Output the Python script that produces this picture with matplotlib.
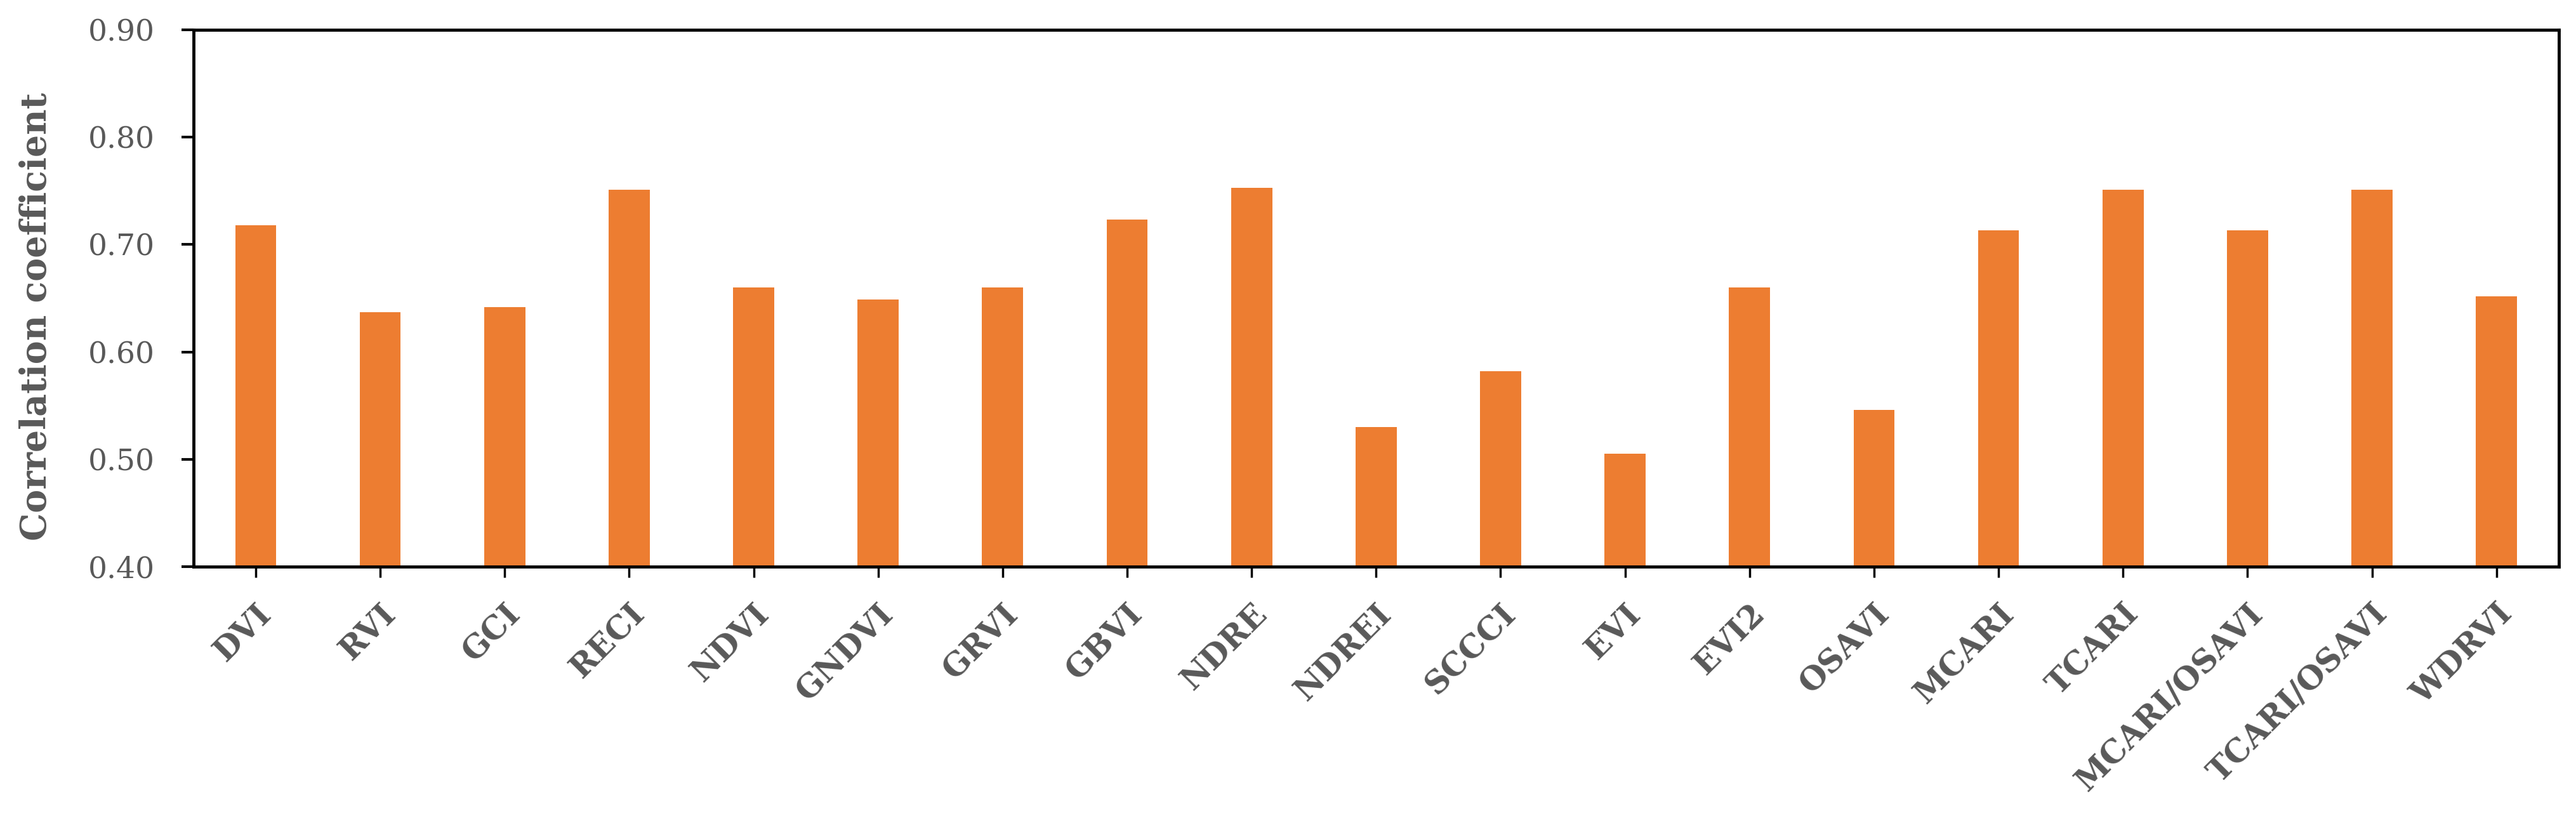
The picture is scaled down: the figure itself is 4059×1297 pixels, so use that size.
import matplotlib.pyplot as plt
from matplotlib.ticker import FormatStrFormatter

# vegetation indices and their correlation with the target
indices = ["DVI", "RVI", "GCI", "RECI", "NDVI", "GNDVI", "GRVI", "GBVI", "NDRE", "NDREI",
           "SCCCI", "EVI", "EVI2", "OSAVI", "MCARI", "TCARI", "MCARI/OSAVI", "TCARI/OSAVI", "WDRVI"]
corr = [0.718, 0.637, 0.642, 0.751, 0.660, 0.649, 0.660, 0.723, 0.753, 0.530,
        0.582, 0.505, 0.660, 0.546, 0.713, 0.751, 0.713, 0.751, 0.652]
yticks = [0.40, 0.50, 0.60, 0.70, 0.80, 0.90]

plt.rcParams["font.family"] = ["DejaVu Serif"]
text_color = "#595959"

fig = plt.figure(figsize=(40.59, 12.97), dpi=100)
ax = fig.add_axes([0.0751, 0.3115, 0.9182, 0.6523])

x = list(range(len(indices)))
ax.bar(x, corr, width=0.33, color="#ED7D31", zorder=2)

ax.set_xlim(-0.5, len(indices) - 0.5)
ax.set_ylim(0.40, 0.90)
ax.set_yticks(yticks)
ax.yaxis.set_major_formatter(FormatStrFormatter("%.2f"))
ax.set_xticks(x)
ax.set_xticklabels(indices, rotation=45, ha="right", rotation_mode="anchor",
                   fontsize=36, fontweight="bold", color=text_color)

for s in ax.spines.values():
    s.set_linewidth(3.5)
    s.set_color("black")

ax.tick_params(axis="y", direction="out", length=14, width=3, labelsize=34,
               labelcolor=text_color, pad=30)
ax.tick_params(axis="x", direction="out", length=12, width=2.5, pad=24)

ax.set_ylabel("Correlation coefficient", fontsize=40, fontweight="bold",
              color=text_color)
ax.yaxis.set_label_coords(-0.059, 0.466)

plt.savefig("out.png", dpi=100)
